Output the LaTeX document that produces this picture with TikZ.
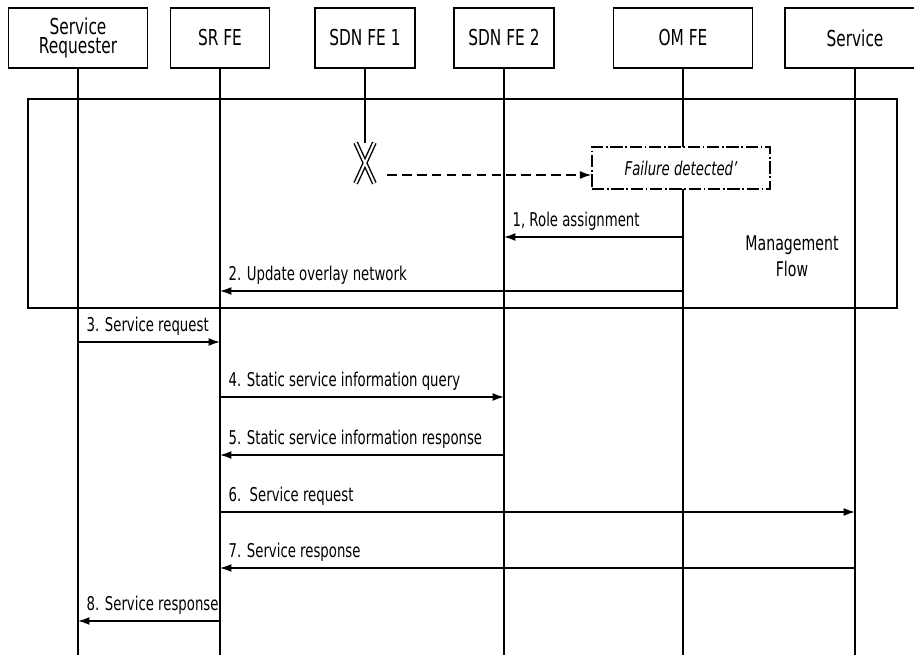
\documentclass[tikz,border=0pt]{standalone}
\usepackage{fontspec}
\setmainfont{DejaVu Sans}[FakeStretch=0.7]
\usetikzlibrary{arrows.meta}

\tikzset{
  header/.style = {draw, thick, minimum height=1.2cm, align=center, font=\fontsize{12.5}{11}\selectfont},
  lifeline/.style = {thick},
  msg/.style = {thick, -{Latex[length=6.5pt,width=4.5pt]}},
  lbl/.style = {font=\fontsize{10.8}{12}\selectfont, inner sep=1pt, xshift=3.5pt, yshift=2.5pt},
}

\begin{document}
\begin{tikzpicture}[x=0.02cm, y=-0.02cm]
  \useasboundingbox (0,0) rectangle (914,655);

  % Parameters
  \def\yend{655}
  \coordinate (bot) at (0,\yend);

  % Headers
  \node[header, minimum width=2.78cm] (req)  at (78,38)  {Service\\Requester};
  \node[header, minimum width=1.98cm] (srfe) at (220,38) {SR FE};
  \node[header, minimum width=2cm]    (sdn1) at (365,38) {SDN FE 1};
  \node[header, minimum width=2cm]    (sdn2) at (504,38) {SDN FE 2};
  \node[header, minimum width=2.78cm] (om)   at (683,38) {OM FE};
  \node[header, minimum width=2.8cm]  (svc)  at (855,38) {Service};

  % Management flow frame
  \draw[thick] (28,99) rectangle (897,308);
  \node[align=center, font=\fontsize{11.5}{15}\selectfont] (mgmt) at (792,256) {Management\\Flow};

  % Lifelines
  \node[inner sep=0, minimum width=0.36cm, minimum height=0.8cm] (xm) at (365,163) {};
  \draw[lifeline] (req) -- (req |- bot);
  \draw[lifeline] (srfe) -- (srfe |- bot);
  \draw[lifeline] (sdn1) -- (xm.north);
  \draw[lifeline] (sdn2) -- (sdn2 |- bot);
  \draw[lifeline] (om) -- (om |- bot);
  \draw[lifeline] (svc) -- (svc |- bot);

  % Failure of SDN FE 1
  \draw[thick, double, double distance=1.2pt] (xm.north west) -- (xm.south east)
    (xm.north east) -- (xm.south west);
  \node[draw, thick, fill=white, dash pattern=on 7pt off 1.5pt on 1pt off 1.5pt,
    minimum width=3.56cm, minimum height=0.84cm, font=\fontsize{10.8}{12}\selectfont\itshape] (fail) at (681,168) {Failure detected'};
  \coordinate (fd) at (387,175);
  \draw[thick, dash pattern=on 5.5pt off 3pt, -{Latex[length=6.5pt,width=4.5pt]}] (fd) -- (fail.west |- fd);

  % Message rows
  \coordinate (m1) at (0,237);
  \coordinate (m2) at (0,291);
  \coordinate (m3) at (0,342);
  \coordinate (m4) at (0,397);
  \coordinate (m5) at (0,455);
  \coordinate (m6) at (0,512);
  \coordinate (m7) at (0,568);
  \coordinate (m8) at (0,621);

  % Messages
  \draw[msg] (om |- m1) -- (sdn2 |- m1) node[pos=1, above right, lbl] {1, Role assignment};
  \draw[msg] (om |- m2) -- (srfe |- m2) node[pos=1, above right, lbl] {2. Update overlay network};
  \draw[msg] (req |- m3) -- (srfe |- m3) node[pos=0, above right, lbl] {3. Service request};
  \draw[msg] (srfe |- m4) -- (sdn2 |- m4) node[pos=0, above right, lbl] {4. Static service information query};
  \draw[msg] (sdn2 |- m5) -- (srfe |- m5) node[pos=1, above right, lbl] {5. Static service information response};
  \draw[msg] (srfe |- m6) -- (svc |- m6) node[pos=0, above right, lbl] {6.\ \ Service request};
  \draw[msg] (svc |- m7) -- (srfe |- m7) node[pos=1, above right, lbl] {7. Service response};
  \draw[msg] (srfe |- m8) -- (req |- m8) node[pos=1, above right, lbl] {8. Service response};

\end{tikzpicture}
\end{document}
